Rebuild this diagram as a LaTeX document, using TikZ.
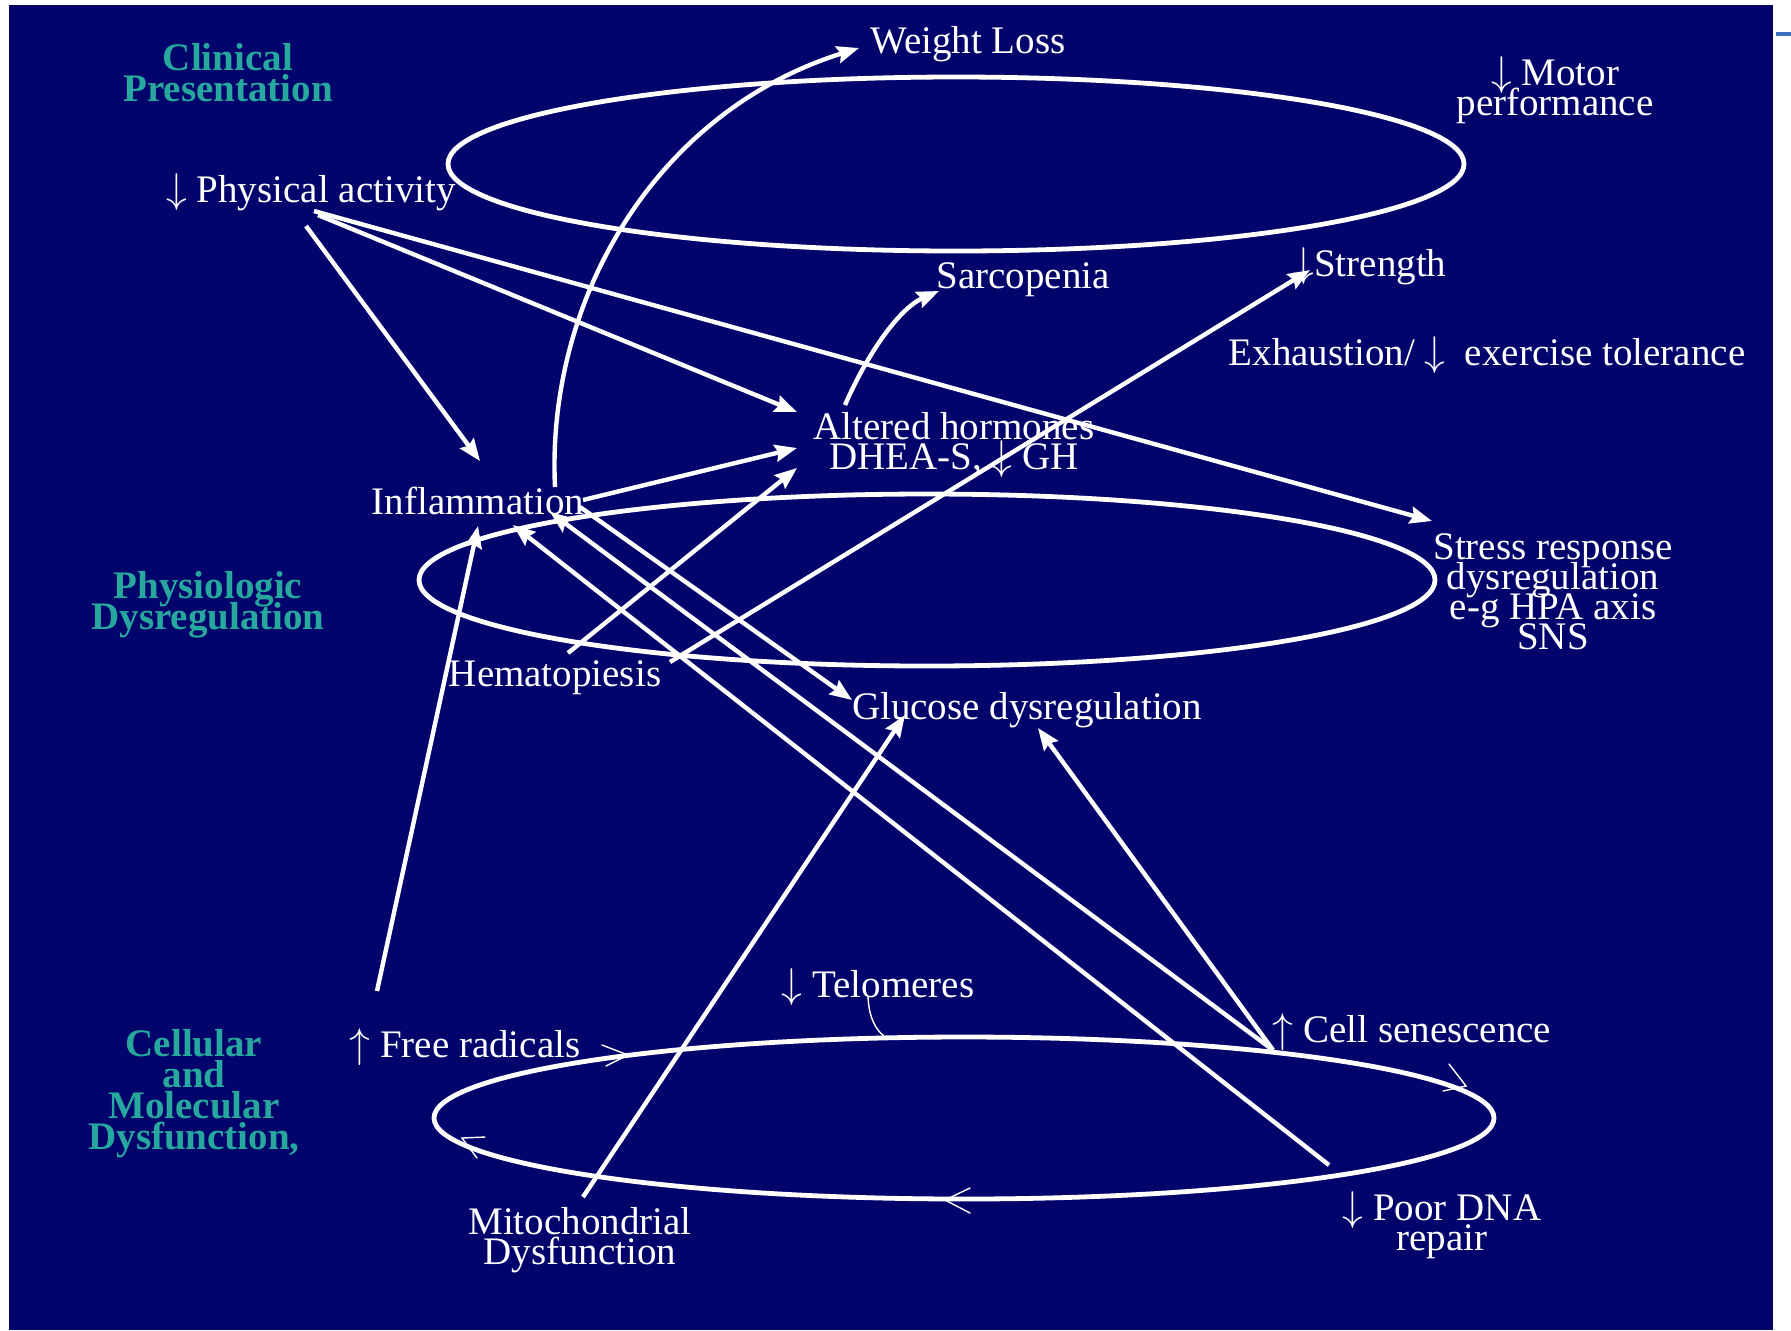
\documentclass[tikz,border=0pt]{standalone}
\usepackage{fontspec}
\setmainfont{Liberation Serif}
\usetikzlibrary{arrows.meta}
\definecolor{navy}{RGB}{2,4,108}
\definecolor{tealtxt}{RGB}{38,168,158}
\definecolor{webblue}{RGB}{60,110,190}
\newcommand{\dnarr}{$\downarrow$}
\newcommand{\uparr}{$\uparrow$}
\newcommand{\tightlines}{\lineskiplimit=-30pt\relax\lineskip=0pt\relax}
\newcommand{\txtfont}{\fontsize{19.5}{15}\selectfont\tightlines}
\newcommand{\lvlfont}{\bfseries\fontsize{19.5}{15.5}\selectfont\tightlines}
\begin{document}
\begin{tikzpicture}[x=0.5pt,y=-0.5pt,
  txt/.style={text=white, font={\txtfont}, inner sep=0pt, align=center},
  lvl/.style={text=tealtxt, font={\lvlfont}, inner sep=0pt, align=center},
  arr/.style={draw=white, line width=2.2pt, -{Stealth[length=11pt,width=8.5pt,inset=1.5pt]}},
  ring/.style={draw=white, line width=2.4pt},
  thinline/.style={draw=white, line width=0.7pt}]
\useasboundingbox (0,0) rectangle (1791,1330);
\fill[white] (0,0) rectangle (1791,1330);
\fill[navy] (9,5) rectangle (1773,1330);
\draw[webblue, line width=2pt] (1776,34) -- (1791,34);

% level labels
\node[lvl] (clin) at (228,73) {Clinical\\Presentation};
\node[lvl] (phys) at (208,605) {Physiologic\\Dysregulation};
\node[lvl] (cell) at (194,1094) {Cellular\\and\\Molecular\\Dysfunction,};

% text nodes
\node[txt] (wl) at (968,44) {Weight Loss};
\node[txt] (motor) at (1555,90) {\dnarr{} Motor\\performance};
\node[txt] (pa) at (311,192) {\dnarr{} Physical activity};
\node[txt] (sarc) at (1023,280) {Sarcopenia};
\node[txt] (str) at (1370,266) {\dnarr{}Strength};
\node[txt] (exh) at (1487,355) {Exhaustion/ \dnarr{}~ exercise tolerance};
\node[txt] (ah) at (954,445) {Altered hormones\\DHEA-S, \dnarr{} GH};
\node[txt] (infl) at (478,501) {Inflammation};
\node[txt] (stress) at (1553,592) {Stress response\\dysregulation\\e-g HPA axis\\SNS};
\node[txt] (hema) at (555,678) {Hematopiesis};
\node[txt] (gluc) at (1027,710) {Glucose dysregulation};
\node[txt] (telo) at (878,987) {\dnarr{} Telomeres};
\node[txt] (fr) at (465,1047) {\uparr{} Free radicals};
\node[txt] (cs) at (1412,1032) {\uparr{} Cell senescence};
\node[txt] (mito) at (580,1240) {Mitochondrial\\Dysfunction};
\node[txt] (dna) at (1442,1225) {\dnarr{} Poor DNA\\repair};

% ellipses (levels)
\draw[ring] (956,164) ellipse [x radius=508, y radius=87];
\draw[ring] (927,580) ellipse [x radius=508, y radius=86];
\draw[ring] (964,1118) ellipse [x radius=530, y radius=81];

% connector end points
\coordinate (paA) at (306,226);  \coordinate (inflIn1) at (480,461);
\coordinate (paB) at (318,215);  \coordinate (ahIn1) at (797,412);
\coordinate (paC) at (314,211);  \coordinate (stressIn) at (1432,521);
\coordinate (inflA) at (555,487); \coordinate (wlIn) at (859,48);
\coordinate (inflB) at (583,500); \coordinate (ahIn2) at (797,448);
\coordinate (inflC) at (580,507); \coordinate (glucIn1) at (852,700);
\coordinate (hemaA) at (568,653); \coordinate (ahIn3) at (797,468);
\coordinate (hemaB) at (670,662); \coordinate (strIn) at (1310,270);
\coordinate (ahA) at (845,405);   \coordinate (sarcIn) at (939,291);
\coordinate (csA) at (1273,1050); \coordinate (glucIn2) at (1038,728);
\coordinate (inflIn2) at (550,512);
\coordinate (dnaA) at (1329,1165); \coordinate (inflIn3) at (513,525);
\coordinate (frA) at (377,991);   \coordinate (inflIn4) at (478,526);
\coordinate (mitoA) at (583,1197); \coordinate (glucIn3) at (905,715);
\coordinate (teloA) at (868,997); \coordinate (teloB) at (884,1036);

% connectors
\draw[arr] (paA) -- (inflIn1);
\draw[arr] (paB) -- (ahIn1);
\draw[arr] (paC) -- (stressIn);
\draw[arr] (inflA) .. controls (546,300) and (655,112) .. (wlIn);
\draw[arr] (inflB) -- (ahIn2);
\draw[arr] (inflC) -- (glucIn1);
\draw[arr] (hemaA) -- (ahIn3);
\draw[arr] (hemaB) -- (strIn);
\draw[arr] (ahA) .. controls (868,352) and (900,308) .. (sarcIn);
\draw[arr] (csA) -- (glucIn2);
\draw[arr] (csA) -- (inflIn2);
\draw[arr] (dnaA) -- (inflIn3);
\draw[arr] (frA) -- (inflIn4);
\draw[arr] (mitoA) -- (glucIn3);
\draw[thinline] (teloA) .. controls (869,1018) and (876,1030) .. (teloB);

% circulation marks on the cellular ellipse
\draw[thinline, line cap=round] (602,1045) -- (628,1055) -- (606,1066);
\draw[thinline, line cap=round] (1449,1064) -- (1466,1086) -- (1443,1091);
\draw[thinline, line cap=round] (970,1188) -- (945,1200) -- (970,1213);
\draw[thinline, line cap=round] (485,1137) -- (462,1138) -- (477,1158);
\end{tikzpicture}
\end{document}
